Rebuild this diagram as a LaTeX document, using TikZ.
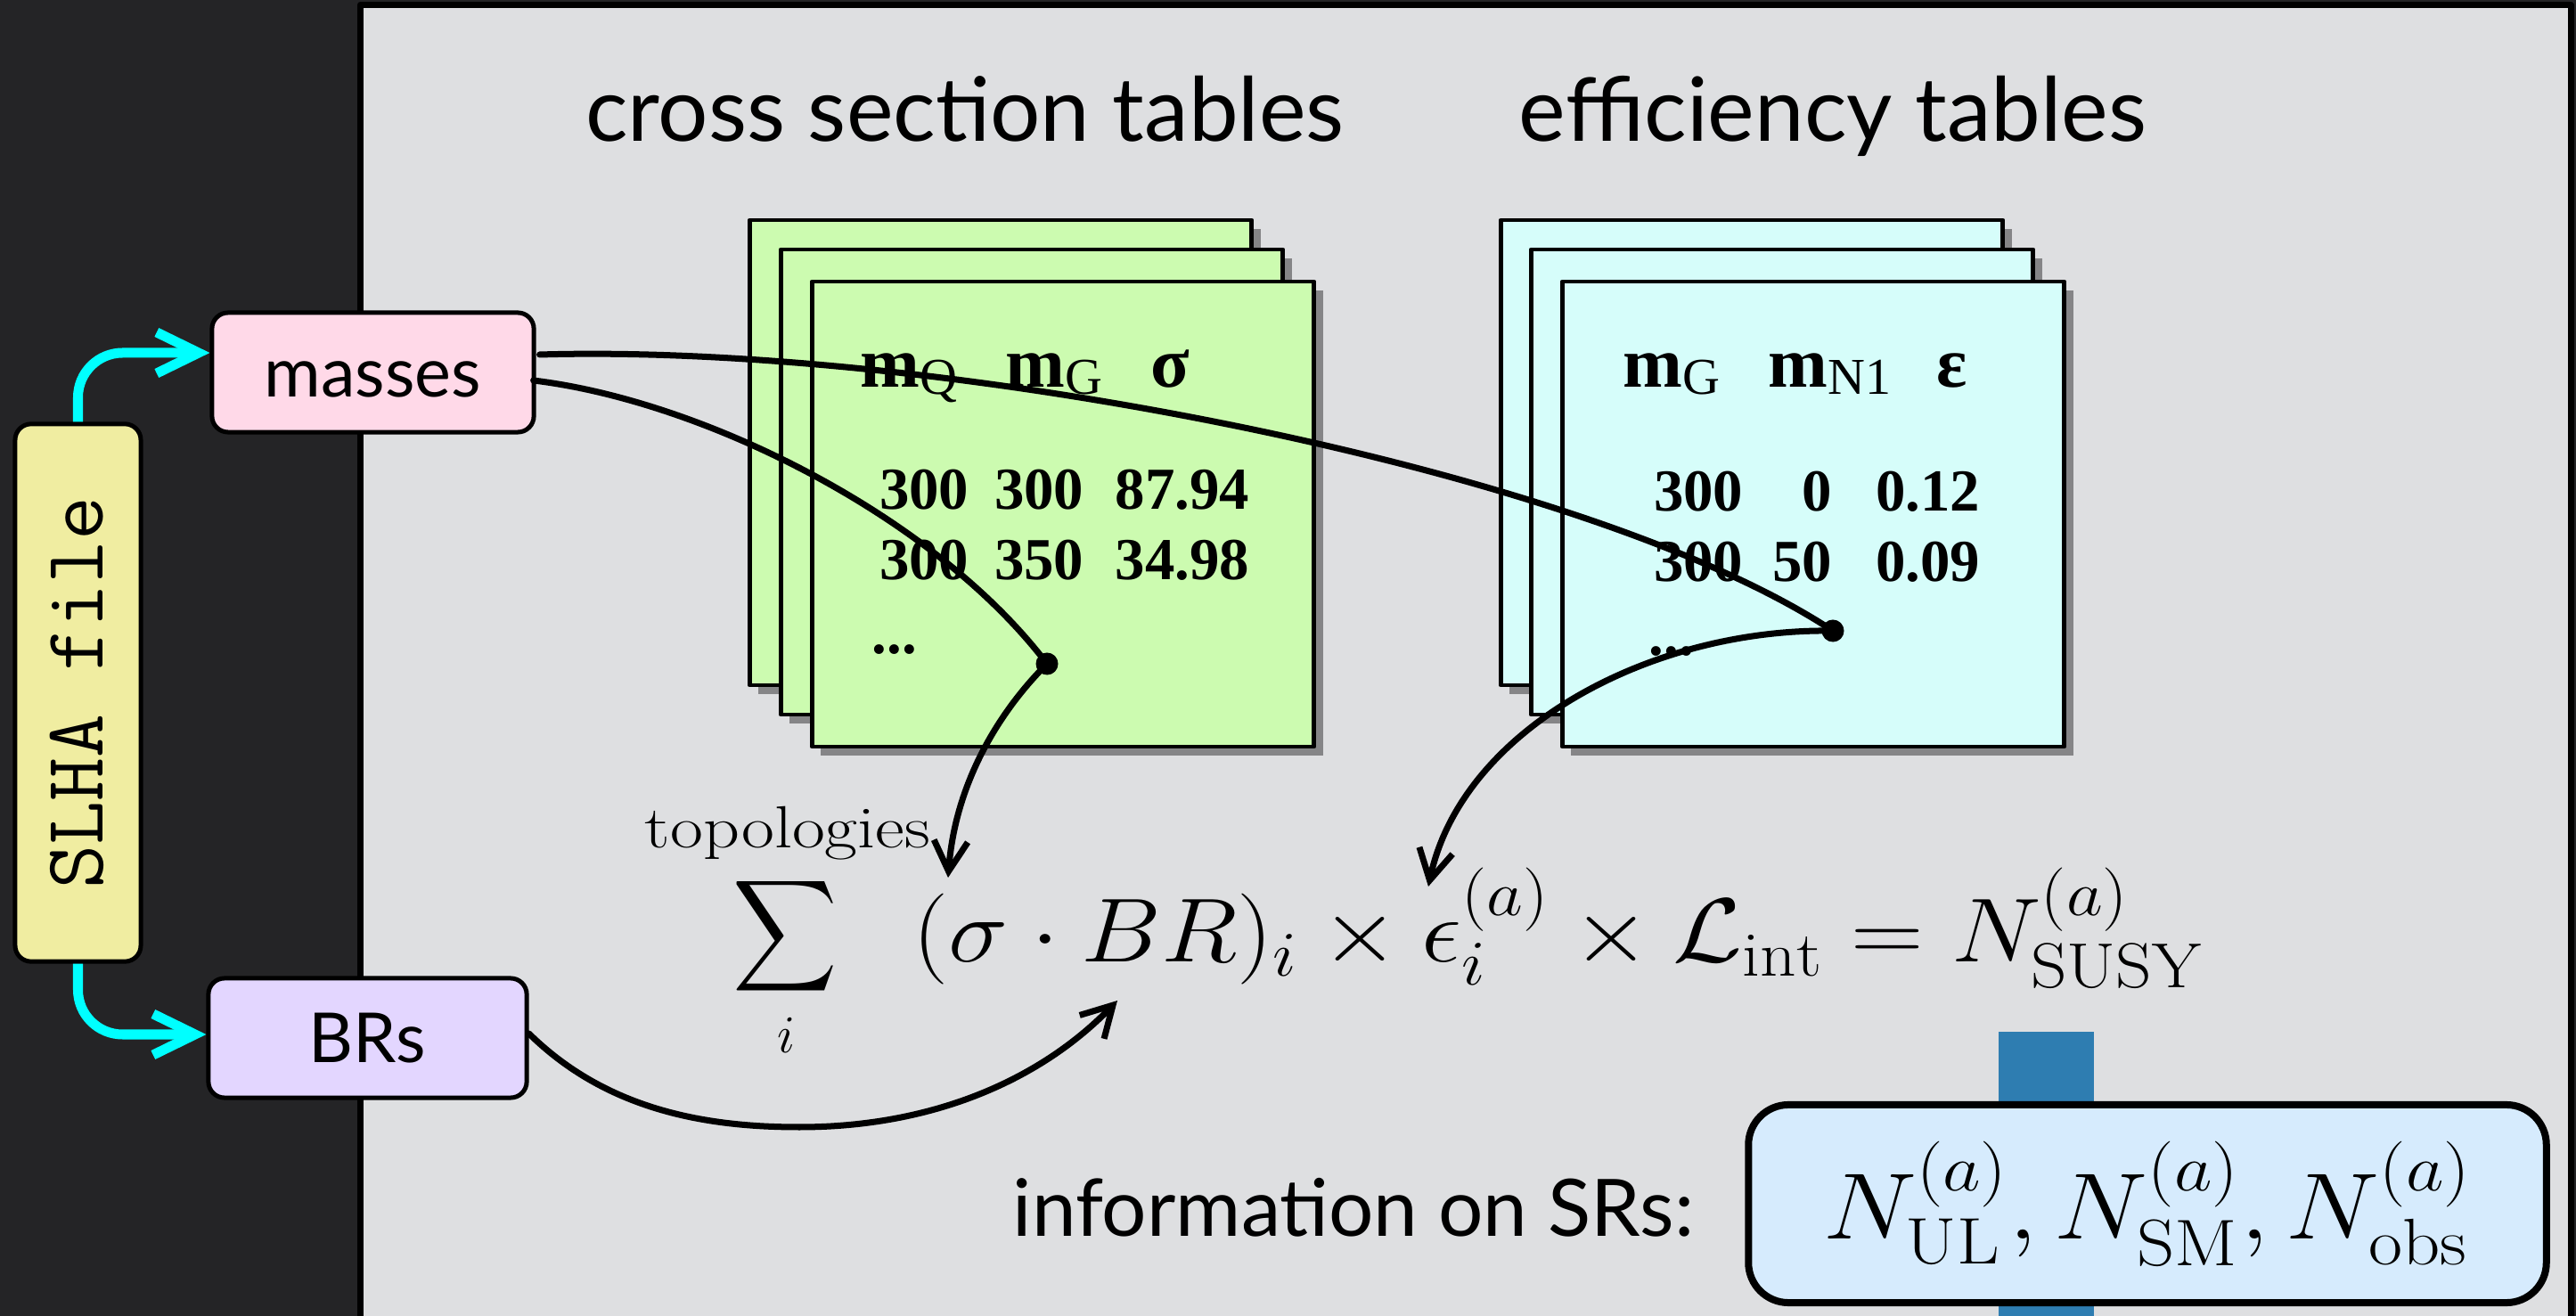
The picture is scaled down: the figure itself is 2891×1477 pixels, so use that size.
\RequirePackage{fix-cm}
\documentclass[tikz,border=0pt]{standalone}
\usepackage{amsmath}
\usepackage{fontspec}
\usepackage{graphicx}
\newfontfamily\gill{Lato}
\newfontfamily\tms{Liberation Serif}
\usetikzlibrary{arrows.meta,shadows,calc}
\definecolor{bgdark}{RGB}{36,36,38}
\definecolor{panel}{RGB}{222,223,225}
\definecolor{slhay}{RGB}{240,237,161}
\definecolor{masspink}{RGB}{255,217,232}
\definecolor{brlav}{RGB}{227,214,255}
\definecolor{xsgreen}{RGB}{204,251,176}
\definecolor{effcyan}{RGB}{214,253,250}
\definecolor{srblue}{RGB}{214,235,253}
\definecolor{barblue}{RGB}{46,125,177}
\definecolor{arrcyan}{RGB}{0,255,255}
\newcommand\msub[1]{m\raisebox{-0.08cm}{\mdseries\fontsize{16.5}{17}\selectfont #1}}
\begin{document}
\begin{tikzpicture}[x=0.01cm,y=-0.01cm,line join=round,
  rbox/.style={draw=black,line width=0.05cm,rounded corners=0.18cm,inner sep=0},
  sheet/.style={draw=black,line width=0.045cm,minimum width=5.63cm,minimum height=5.22cm,inner sep=0,
     drop shadow={shadow xshift=0.1cm,shadow yshift=-0.1cm,opacity=0.4,fill=black}},
  hdr/.style={anchor=base west,inner sep=0,font=\tms\bfseries\fontsize{22.8}{24}\selectfont},
  num/.style={anchor=base east,inner sep=0,font=\tms\bfseries\fontsize{19}{20}\selectfont},
  titlef/.style={anchor=base,inner sep=0,font=\gill\fontsize{28.3}{32}\selectfont},
  conn/.style={draw=black,line width=0.07cm,line cap=round},
  blackarr/.style={-{Straight Barb[length=0.34cm,width=0.38cm]}},
  cyanarr/.style={draw=arrcyan,line width=0.11cm,rounded corners=0.5cm,-{Straight Barb[length=0.47cm,width=0.46cm]}},
  dotnode/.style={circle,fill=black,inner sep=0,minimum size=0.25cm}]
\useasboundingbox (0,0) rectangle (2891,1477);
\clip (0,0) rectangle (2891,1477);
% background and panel
\fill[bgdark] (0,0) rectangle (2891,1477);
\draw[fill=panel,line width=0.07cm] (404.5,5.5) rectangle (2885,1520);
% blue bar behind SR box
\fill[barblue] (2243,1158) rectangle (2350,1490);
% titles
\node[titlef] (xstitle) at (1083,159) {cross section tables};
\node[titlef] (efftitle) at (2057,159) {efficiency tables};
% cross section sheets
\node[sheet,fill=xsgreen] (xsA) at (1123,508) {};
\node[sheet,fill=xsgreen] (xsB) at (1158,541) {};
\node[sheet,fill=xsgreen] (xsC) at (1193,577) {};
% efficiency sheets
\node[sheet,fill=effcyan] (efA) at (1966,508) {};
\node[sheet,fill=effcyan] (efB) at (2000,541) {};
\node[sheet,fill=effcyan] (efC) at (2035,577) {};
% cross section table text
\node[hdr] (xh1) at (965,435) {\msub{Q}};
\node[hdr] (xh2) at (1128,435) {\msub{G}};
\node[hdr] (xh3) at (1291,435) {σ};
\node[num] (xr11) at (1088,572) {300};
\node[num] (xr12) at (1217,572) {300};
\node[num] (xr13) at (1403,572) {87.94};
\node[num] (xr21) at (1088,651) {300};
\node[num] (xr22) at (1217,651) {350};
\node[num] (xr23) at (1403,651) {34.98};
\node[num,anchor=base west] (xr3) at (978,734) {...};
% efficiency table text
\node[hdr] (eh1) at (1821,435) {\msub{G}};
\node[hdr] (eh2) at (1984,435) {\msub{N1}};
\node[hdr] (eh3) at (2173,435) {ε};
\node[num] (er11) at (1957,574) {300};
\node[num] (er12) at (2057,574) {0};
\node[num] (er13) at (2223,574) {0.12};
\node[num] (er21) at (1957,653) {300};
\node[num] (er22) at (2057,653) {50};
\node[num] (er23) at (2223,653) {0.09};
\node[num,anchor=base west] (er3) at (1850,736) {...};
% left boxes
\node[rbox,fill=slhay,rotate=90,minimum width=6.03cm,minimum height=1.41cm,
      font=\ttfamily\fontsize{27}{28}\selectfont,text height=0.56cm,text depth=0cm] (slha) at (87.5,777.5) {SLHA file};
\node[rbox,fill=masspink,minimum width=3.61cm,minimum height=1.34cm,
      font=\gill\fontsize{22}{26}\selectfont,text height=0.6cm,text depth=0.05cm] (masses) at (418.5,418) {masses};
\node[rbox,fill=brlav,minimum width=3.57cm,minimum height=1.34cm,
      font=\gill\fontsize{22}{26}\selectfont,text height=0.6cm,text depth=0.05cm] (brs) at (412.5,1165) {BRs};
% SR box and info
\node[draw=black,line width=0.08cm,rounded corners=0.45cm,fill=srblue,inner sep=0,
      minimum width=8.95cm,minimum height=2.22cm,font=\fontsize{30}{32}\selectfont] (srbox) at (2410,1351)
      {\scalebox{1.12}[1]{$N^{(a)}_{\mathrm{UL}},N^{(a)}_{\mathrm{SM}},N^{(a)}_{\mathrm{obs}}$}};
\node[anchor=base,inner sep=0,font=\gill\fontsize{25.3}{30}\selectfont] (info) at (1519,1387) {information on SRs:};
% equation
\node[inner sep=0,font=\fontsize{26}{28}\selectfont] (sumop) at (881,1051) {\scalebox{0.93}[1]{$\displaystyle\sum$}};
\node[anchor=base,inner sep=0,font=\fontsize{19}{21}\selectfont] (topo) at (884,952) {\scalebox{1.2}[1]{topologies}};
\node[anchor=base,inner sep=0,font=\fontsize{17}{18}\selectfont] (ilim) at (882,1182) {$i$};
\node[anchor=base west,inner sep=0,font=\fontsize{29}{32}\selectfont] (eqrest) at (1024,1080)
      {\scalebox{1.11}[1]{$\displaystyle(\sigma\cdot BR)_i\times\epsilon_i^{(a)}\times\mathcal{L}_{\mathrm{int}}=N^{(a)}_{\mathrm{SUSY}}$}};
% dots and targets
\node[dotnode] (dotxs) at (1175,745) {};
\node[dotnode] (doteff) at (2057,708) {};
\coordinate (sigtarget) at (1064,985);
\coordinate (epstarget) at (1603,995);
\coordinate (brtarget) at (1254,1123);
% cyan arrows
\draw[cyanarr] (slha.east) |- ($(masses.west)+(0,-22)$);
\draw[cyanarr] (slha.west) |- ($(brs.west)+(0,-4)$);
% black connectors
\draw[conn] ($(masses.east)+(4,-20)$) .. controls (1050,385) and (1780,525) .. (doteff.center);
\draw[conn] ($(masses.east)+(-3,9)$) .. controls (790,450) and (1050,580) .. (dotxs.center);
\draw[conn,blackarr] (dotxs.center) .. controls (1120,800) and (1072,880) .. (sigtarget);
\draw[conn,blackarr] (doteff.center) .. controls (1850,705) and (1640,820) .. (epstarget);
\draw[conn,blackarr] ($(brs.east)+(0,-5)$) .. controls (680,1245) and (790,1265) .. (897,1265)
      .. controls (1050,1265) and (1170,1210) .. (brtarget);
\end{tikzpicture}
\end{document}
